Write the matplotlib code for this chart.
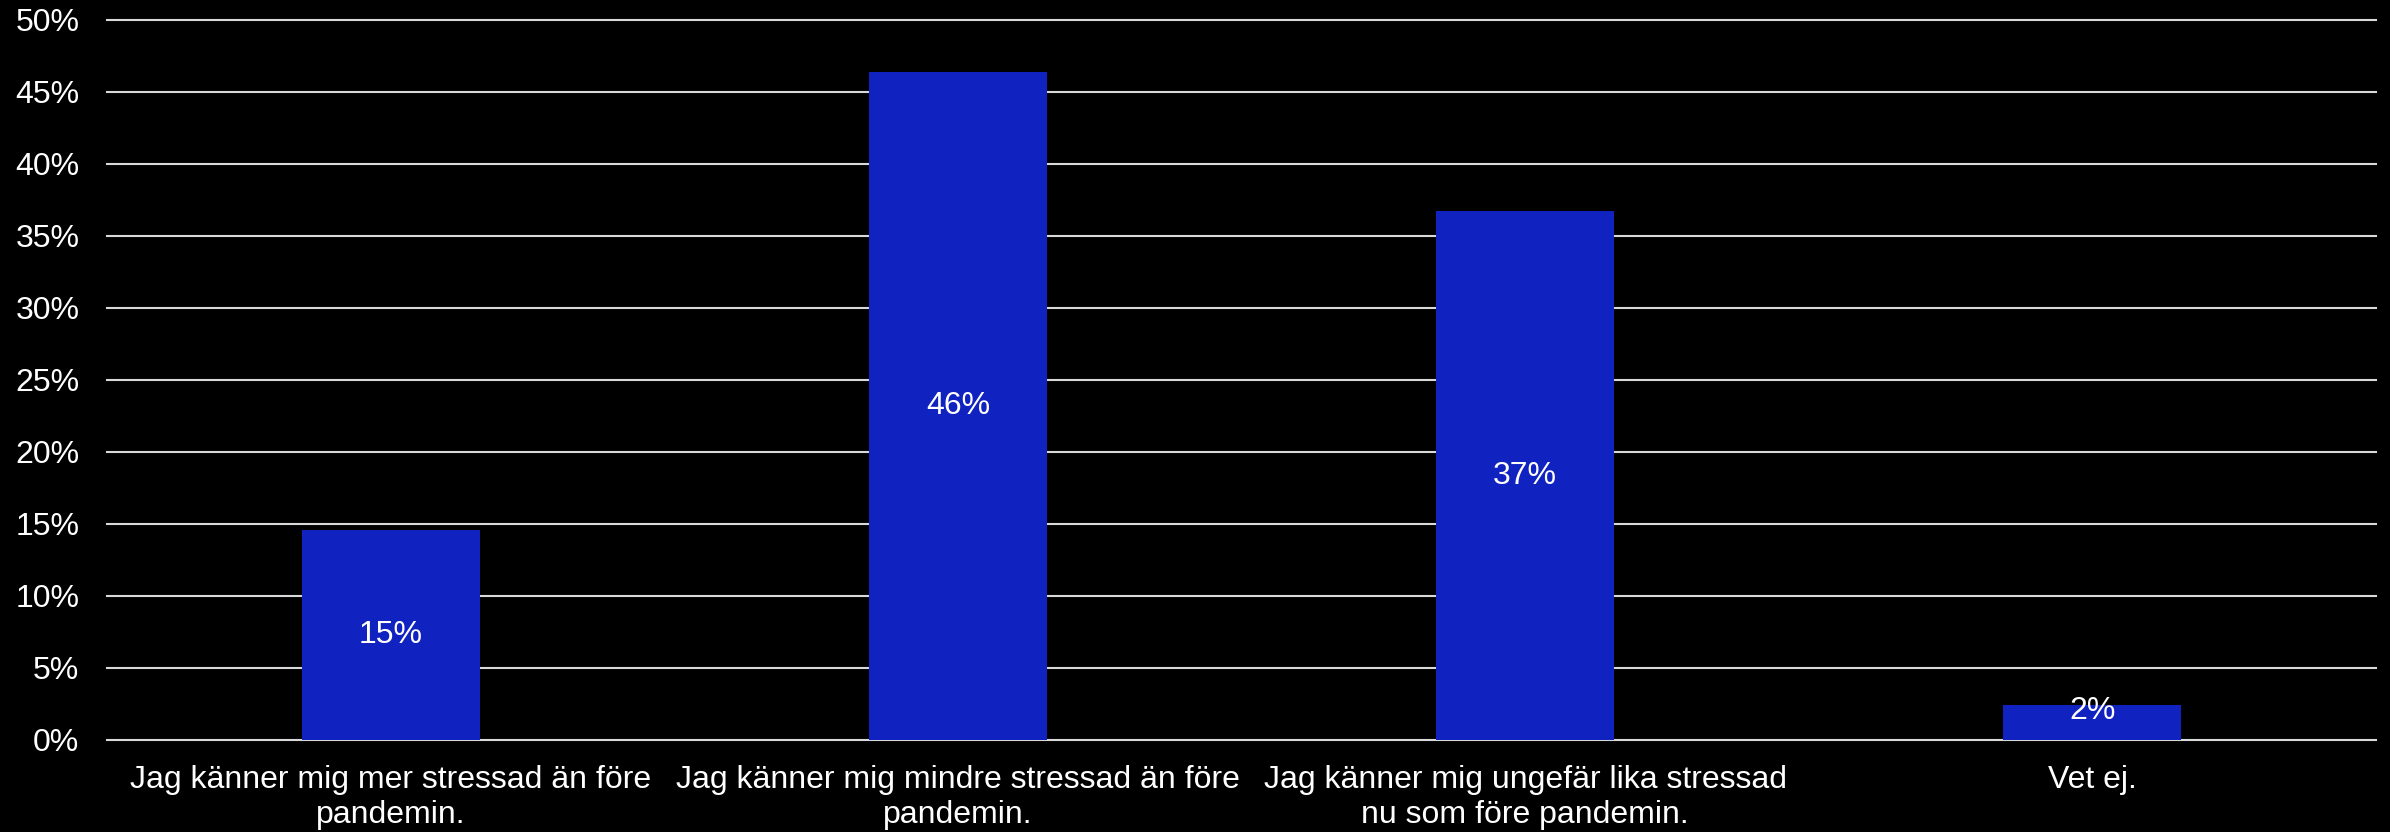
import matplotlib
matplotlib.use("Agg")
import matplotlib.pyplot as plt
from matplotlib.ticker import PercentFormatter

# Survey answers (share of respondents, in percent)
categories = [
    "Jag känner mig mer stressad än före\npandemin.",
    "Jag känner mig mindre stressad än före\npandemin.",
    "Jag känner mig ungefär lika stressad\nnu som före pandemin.",
    "Vet ej.",
]
values = [14.6, 46.4, 36.7, 2.4]
yticks = [0, 5, 10, 15, 20, 25, 30, 35, 40, 45, 50]

bar_color = "#1022C0"
text_color = "#FFFFFF"
grid_color = "#D9D9D9"

plt.rcParams["font.family"] = ["Liberation Sans", "DejaVu Sans"]

fig = plt.figure(figsize=(23.9, 8.32), dpi=100, facecolor="black")
ax = fig.add_axes([0.0448, 0.1106, 0.9493, 0.8654])
ax.set_facecolor("black")

x = range(len(categories))
bars = ax.bar(x, values, width=0.314, color=bar_color, zorder=3)

# value labels inside the bars; very short bars get the label lifted a bit
for xi, v in zip(x, values):
    ax.text(xi, max(v / 2, 2.0), f"{v:.0f}%", ha="center", va="center",
            color=text_color, fontsize=23, zorder=4)

ax.set_xlim(-0.5, len(categories) - 0.5)
ax.set_ylim(0, 50)
ax.set_yticks(yticks)
ax.yaxis.set_major_formatter(PercentFormatter(decimals=0))
ax.set_xticks(list(x))
ax.set_xticklabels(categories)

ax.grid(axis="y", color=grid_color, linewidth=1.5, zorder=0)
for gl in ax.get_ygridlines():
    gl.set_clip_on(False)
ax.tick_params(axis="y", length=0, pad=20, labelsize=23, labelcolor=text_color)
ax.tick_params(axis="x", length=0, pad=18, labelsize=23, labelcolor=text_color)
for spine in ax.spines.values():
    spine.set_visible(False)

fig.savefig("out.png", dpi=100, facecolor="black")
plt.close(fig)
